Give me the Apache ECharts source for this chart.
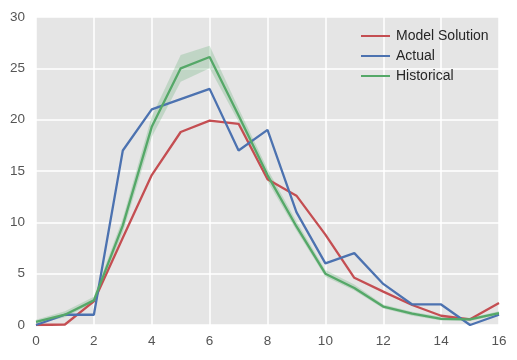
<!DOCTYPE html>
<html>
<head>
<meta charset="utf-8">
<script src="https://cdn.jsdelivr.net/npm/echarts@6/dist/echarts.min.js"></script>
<style>html,body{margin:0;padding:0;background:#fff;}#chart{width:517px;height:360px;}</style>
</head>
<body>
<div id="chart"></div>
<script>
const xValues = [0,1,2,3,4,5,6,7,8,9,10,11,12,13,14,15,16];
const modelSolution = [0,0.05,2.3,8.5,14.6,18.8,19.9,19.6,14.2,12.6,8.8,4.6,3.25,1.95,0.9,0.55,2.15];
const actual = [0,1,1,17,21,22,23,17,19,11,6,7,4,2,2,0,1];
const historical = [0.3,1.0,2.4,9.7,19.3,25.0,26.1,20.4,14.6,9.6,5.0,3.6,1.8,1.1,0.6,0.55,1.15];
const historicalLow = [0.1,0.75,2.15,9.0,18.3,23.7,25.0,19.8,14.0,9.2,4.7,3.35,1.6,0.9,0.45,0.4,1.0];
const historicalHigh = [0.5,1.35,2.75,10.4,20.3,26.3,27.2,21.1,15.2,10.1,5.35,3.95,2.0,1.3,0.8,0.7,1.35];
const xTicks = [0,2,4,6,8,10,12,14,16];
const yTicks = [0,5,10,15,20,25,30];

const pairs = (ys) => xValues.map((x, i) => [x, ys[i]]);
const chart = echarts.init(document.getElementById('chart'), null, {renderer: 'canvas'});
const bandData = xValues.map((x, i) => [x, historicalLow[i], historicalHigh[i]]);

chart.setOption({
  animation: false,
  backgroundColor: '#ffffff',
  textStyle: {fontFamily: 'Liberation Sans, Arial, sans-serif'},
  grid: {left: 36, right: 18, top: 17, bottom: 35, show: true, backgroundColor: '#e5e5e5', borderWidth: 0},
  xAxis: {
    type: 'value', min: xTicks[0], max: xTicks[xTicks.length - 1], interval: 2,
    axisLine: {show: false}, axisTick: {show: false},
    axisLabel: {color: '#555555', fontSize: 13.5, margin: 9, fontFamily: 'Liberation Sans, Arial, sans-serif'},
    splitLine: {show: true, lineStyle: {color: '#ffffff', width: 1.5}}
  },
  yAxis: {
    type: 'value', min: yTicks[0], max: yTicks[yTicks.length - 1], interval: 5,
    axisLine: {show: false}, axisTick: {show: false},
    axisLabel: {color: '#555555', fontSize: 13.5, margin: 11, fontFamily: 'Liberation Sans, Arial, sans-serif'},
    splitLine: {show: true, lineStyle: {color: '#ffffff', width: 1.5}}
  },
  legend: {
    orient: 'vertical', left: 356, top: 24, icon: 'rect', itemWidth: 29, itemHeight: 2, itemGap: 6,
    textStyle: {color: '#262626', fontSize: 14, padding: [0, 0, 0, 1], fontFamily: 'Liberation Sans, Arial, sans-serif'},
    data: ['Model Solution', 'Actual', 'Historical']
  },
  series: [
    {
      type: 'custom', name: 'band', silent: true, z: 1,
      data: bandData,
      renderItem: function (params, api) {
        if (params.dataIndex !== 0) return null;
        const top = bandData.map(d => api.coord([d[0], d[2]]));
        const bottom = bandData.map(d => api.coord([d[0], d[1]])).reverse();
        return {type: 'polygon', shape: {points: top.concat(bottom)}, style: {fill: 'rgba(85,168,104,0.25)'}};
      },
      encode: {x: 0, y: [1, 2]}
    },
    {name: 'Model Solution', type: 'line', data: pairs(modelSolution), showSymbol: false, lineStyle: {color: '#C44E52', width: 2.3}, itemStyle: {color: '#C44E52'}, z: 3},
    {name: 'Actual', type: 'line', data: pairs(actual), showSymbol: false, lineStyle: {color: '#4C72B0', width: 2.3}, itemStyle: {color: '#4C72B0'}, z: 3},
    {name: 'Historical', type: 'line', data: pairs(historical), showSymbol: false, lineStyle: {color: '#55A868', width: 2.3}, itemStyle: {color: '#55A868'}, z: 3}
  ]
});
</script>
</body>
</html>
